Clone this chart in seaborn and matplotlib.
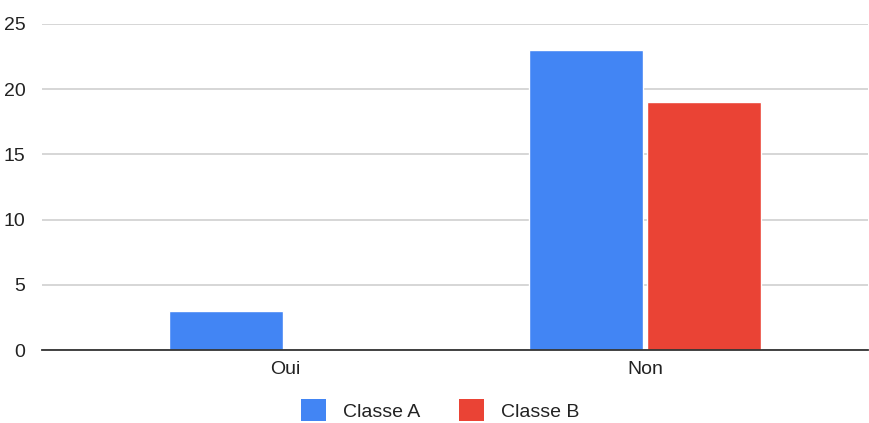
import matplotlib
matplotlib.use("Agg")
import matplotlib.pyplot as plt
import seaborn as sns
import pandas as pd
from matplotlib.patches import Patch

categories = ["Oui", "Non"]
series = ["Classe A", "Classe B"]
classe_a = [3, 23]
classe_b = [0, 19]
yticks = [0, 5, 10, 15, 20, 25]
colors = ["#4285F4", "#EA4335"]

df = pd.DataFrame({
    "cat": categories * 2,
    "serie": [series[0]] * 2 + [series[1]] * 2,
    "val": classe_a + classe_b,
})

sns.set_theme(style="white")
plt.rcParams["font.family"] = ["Liberation Sans", "DejaVu Sans"]

fig = plt.figure(figsize=(8.7, 4.23), dpi=100)
ax = fig.add_axes([42 / 870, 1 - 350 / 423, (868 - 42) / 870, (350 - 24) / 423])

sns.barplot(data=df, x="cat", y="val", hue="serie", order=categories,
            hue_order=series, palette=colors, width=0.656, gap=0.034,
            saturation=1, ax=ax, legend=False, zorder=3)

ax.set_xlim(-0.675, 1.619)
ax.set_ylim(0, 25)
ax.set_yticks(yticks)
ax.set_yticklabels([str(t) for t in yticks])
ax.yaxis.grid(True, color="#cccccc", linewidth=1.1, zorder=0)
ax.set_axisbelow(True)
for s in ["top", "right", "left"]:
    ax.spines[s].set_visible(False)
ax.spines["bottom"].set_color("#333333")
ax.spines["bottom"].set_linewidth(1.3)
ax.spines["bottom"].set_zorder(5)
ax.tick_params(axis="both", length=0, labelsize=14, colors="#222222")
ax.tick_params(axis="y", pad=12)
ax.tick_params(axis="x", pad=8)
ax.set_xlabel("")
ax.set_ylabel("")

handles = [Patch(facecolor=c, edgecolor="none") for c in colors]
fig.legend(handles, series, loc="center", bbox_to_anchor=(440 / 870, 1 - 410 / 423),
           ncol=2, frameon=False, fontsize=14, handlelength=1.3, handleheight=1.3,
           handletextpad=0.85, columnspacing=2.0, labelcolor="#222222")

fig.savefig("out.png", dpi=100)
